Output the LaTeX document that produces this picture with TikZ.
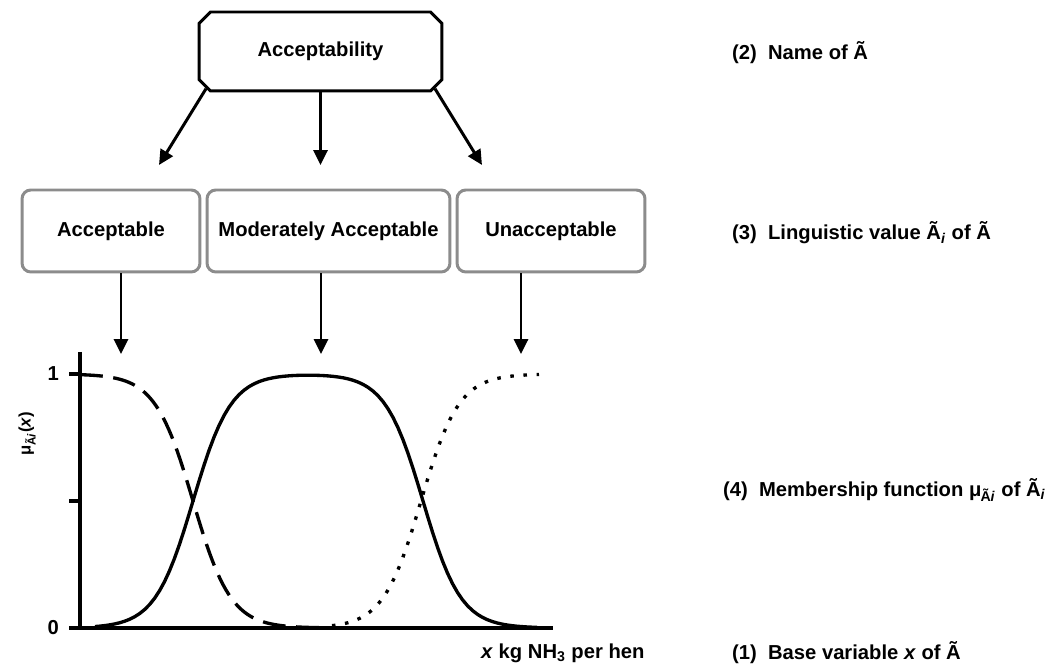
\documentclass[tikz,border=0pt]{standalone}
\usepackage{fontspec}
\setmainfont{Liberation Sans}
\usetikzlibrary{arrows.meta,shapes.misc,calc}

\begin{document}
\begin{tikzpicture}[x=0.02cm,y=-0.02cm,
		lbl/.style={font=\bfseries\fontsize{11.5}{13}\selectfont},
		namebox/.style={lbl,draw,line width=1.7pt,chamfered rectangle,
			chamfered rectangle xsep=3.5pt,chamfered rectangle ysep=3pt,
			minimum width=4.86cm,minimum height=1.58cm},
		valbox/.style={lbl,draw=black!45,line width=1.7pt,rounded corners=5pt,
			minimum height=1.64cm},
		link/.style={line width=1.7pt,-{Triangle[length=8.5pt,width=8pt]}},
		curve/.style={line width=1.9pt,samples=90}]
		\useasboundingbox (0,0) rectangle (1048,668);
		\node[namebox] (accept) at (320.5,51.5) {Acceptability};
		\node[valbox,minimum width=3.56cm] (acc) at (111,231) {Acceptable};
		\node[valbox,minimum width=4.86cm] (mod) at (328.5,231) {Moderately Acceptable};
		\node[valbox,minimum width=3.76cm] (unacc) at (551,231) {Unacceptable};
		\coordinate (hA) at (159,165);
		\coordinate (hM) at (320.5,165);
		\coordinate (hU) at (482,165);
		\draw[link] (accept.-162) -- (hA);
		\draw[link] (accept.south) -- (hM);
		\draw[link] (accept.-18) -- (hU);
		\coordinate (tipA) at (121,354);
		\coordinate (tipM) at (321,354);
		\coordinate (tipU) at (521,354);
		\draw[link] (tipA |- acc.south) -- (tipA);
		\draw[link] (tipM |- mod.south) -- (tipM);
		\draw[link] (tipU |- unacc.south) -- (tipU);
		% axes
		\coordinate (O) at (80,628);
		\coordinate (ytop) at (80,352);
		\coordinate (xend) at (553,628);
		\draw[line width=2.6pt] (ytop) -- (O) -- (xend);
		\foreach \v in {374,501,628}
			\draw[line width=2.4pt] (69,\v) -- (80,\v);
		\node[lbl,anchor=east] (one) at (65,374) {1};
		\node[lbl,anchor=east] (zero) at (65,628) {0};
		\node[font=\bfseries\fontsize{9.5}{11}\selectfont,rotate=90] (mulbl) at (27,434) {μ\textsubscript{Ã\textit{i}}(\textit{x})};
		% membership curves
		\draw[curve,dash pattern=on 13pt off 6pt] plot[domain=80:320] (\x,{628-254/(1+exp((\x-193)/19))});
		\draw[curve] plot[domain=95:537] (\x,{628-254/((1+exp(-(\x-193)/19))*(1+exp((\x-423)/19)))});
		\draw[curve,dash pattern=on 2pt off 5.5pt] plot[domain=332:539] (\x,{628-254/(1+exp(-(\x-421)/19))});
		\node[lbl,anchor=west] (base) at (475,653) {\textit{x} kg NH\textsubscript{3} per hen};
		% right column
		\node[lbl,anchor=west] (t2) at (726,53) {(2)\ \ Name of Ã};
		\node[lbl,anchor=west] (t3) at (726,233) {(3)\ \ Linguistic value Ã\textsubscript{\textit{i}} of Ã};
		\node[lbl,anchor=west] (t4) at (717,490) {(4)\ \ Membership function μ\textsubscript{\kern-.5ptÃ\textit{i}} of Ã\textsubscript{\textit{i}}};
		\node[lbl,anchor=west] (t1) at (726,653) {(1)\ \ Base variable \textit{x} of Ã};
	\end{tikzpicture}
\end{document}
